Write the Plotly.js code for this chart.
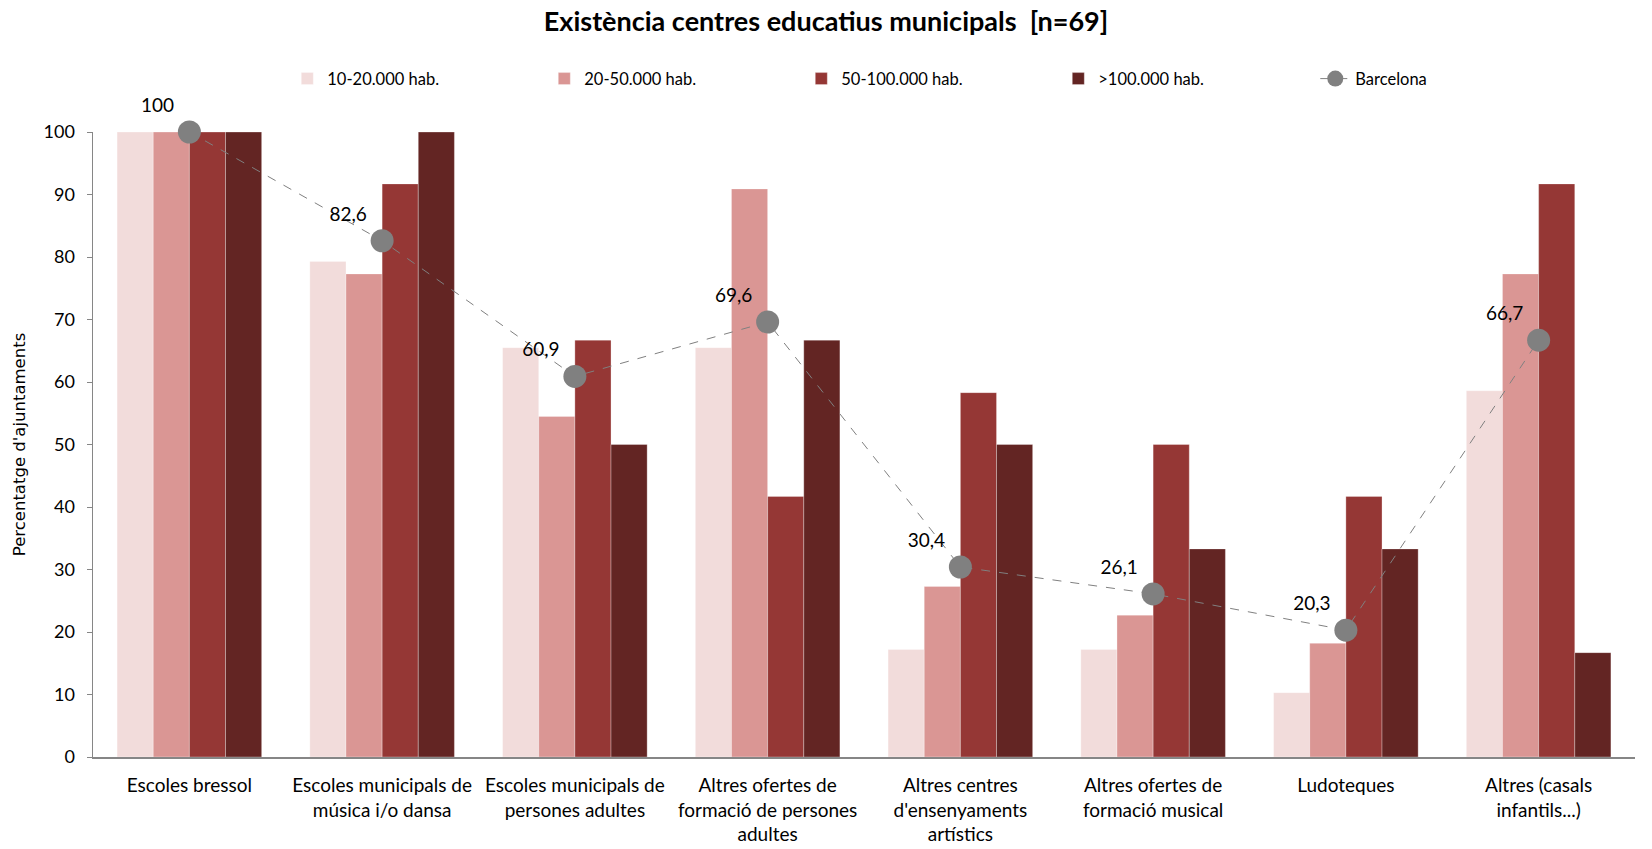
<!DOCTYPE html>
<html>
<head>
<meta charset="utf-8">
<script src="https://cdn.plot.ly/plotly-3.0.1.min.js"></script>
<style>
  html, body { margin: 0; padding: 0; background: #fff; }
  #chart { width: 1652px; height: 849px; }
</style>
</head>
<body>
<div id="chart"></div>
<script>
// Existència centres educatius municipals, % d'ajuntaments per grandària

var categories = [
  "Escoles bressol",
  "Escoles municipals de<br>música i/o dansa",
  "Escoles municipals de<br>persones adultes",
  "Altres ofertes de<br>formació de persones<br>adultes",
  "Altres centres<br>d'ensenyaments<br>artístics",
  "Altres ofertes de<br>formació musical",
  "Ludoteques",
  "Altres (casals<br>infantils...)"
];

var hab10_20 = [100, 79.3, 65.5, 65.5, 17.2, 17.2, 10.3, 58.6];
var hab20_50 = [100, 77.3, 54.5, 90.9, 27.3, 22.7, 18.2, 77.3];
var hab50_100 = [100, 91.7, 66.7, 41.7, 58.3, 50, 41.7, 91.7];
var hab100 = [100, 100, 50, 66.7, 50, 33.3, 33.3, 16.7];
var barcelona = [100, 82.6, 60.9, 69.6, 30.4, 26.1, 20.3, 66.7];

var seriesNames = ["10-20.000 hab.", "20-50.000 hab.", "50-100.000 hab.", ">100.000 hab.", "Barcelona"];
var colors = ["#F2DCDB", "#DA9694", "#953735", "#632523", "#808080"];

var font = "Lato, 'Open Sans', sans-serif";

function barTrace(vals, i) {
  return {
    type: 'bar',
    x: categories,
    y: vals,
    name: seriesNames[i],
    marker: { color: colors[i], line: { color: 'rgba(255,255,255,0.5)', width: 0.6 } },
    hoverinfo: 'y+name'
  };
}

var data = [
  barTrace(hab10_20, 0),
  barTrace(hab20_50, 1),
  barTrace(hab50_100, 2),
  barTrace(hab100, 3),
  {
    type: 'scatter',
    mode: 'lines+markers+text',
    x: categories,
    y: barcelona,
    name: seriesNames[4],
    line: { color: colors[4], width: 1, dash: 'dash' },
    marker: { color: colors[4], size: 23 },
    text: barcelona.map(function (v) { return String(v).replace('.', ','); }),
    textposition: 'top left',
    textfont: { family: font, size: 19, color: '#000' },
    cliponaxis: false
  }
];

var layout = {
  width: 1652,
  height: 849,
  margin: { l: 93, r: 17, t: 132, b: 92 },
  paper_bgcolor: '#fff',
  plot_bgcolor: '#fff',
  font: { family: font, size: 18, color: '#000' },
  title: {
    text: '<b>Existència centres educatius municipals&nbsp; [n=69]</b>',
    font: { family: font, size: 27, color: '#000' },
    x: 0.5, xref: 'container', xanchor: 'center',
    y: 0.975, yanchor: 'middle'
  },
  barmode: 'group',
  bargap: 0.25,
  bargroupgap: 0,
  showlegend: true,
  legend: {
    orientation: 'h',
    x: 0.126, xanchor: 'left',
    y: 1.085, yanchor: 'middle',
    entrywidth: 212,
    entrywidthmode: 'pixels',
    bgcolor: 'rgba(0,0,0,0)',
    font: { family: font, size: 16.5, color: '#000' },
    traceorder: 'normal'
  },
  xaxis: {
    type: 'category',
    showline: true,
    linecolor: '#868686',
    linewidth: 2,
    ticks: '',
    ticklabelstandoff: 10,
    tickfont: { family: font, size: 19, color: '#000' },
    showgrid: false,
    zeroline: false,
    automargin: false
  },
  yaxis: {
    range: [0, 100],
    dtick: 10,
    showline: true,
    linecolor: '#868686',
    linewidth: 1.5,
    ticks: 'outside',
    ticklen: 5,
    tickcolor: '#868686',
    ticklabelstandoff: 8,
    tickfont: { family: font, size: 18, color: '#000' },
    showgrid: false,
    zeroline: false,
    automargin: false,
    title: {
      text: "Percentatge d'ajuntaments",
      font: { family: "'DejaVu Sans', sans-serif", size: 16.5, color: '#000' },
      standoff: 14
    }
  }
};

Plotly.newPlot('chart', data, layout, { displayModeBar: false, staticPlot: true });
</script>
</body>
</html>
